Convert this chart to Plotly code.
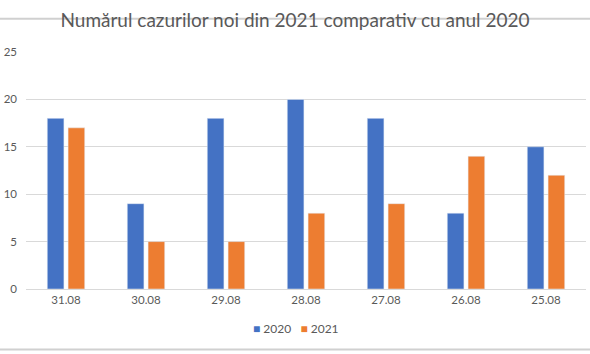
import plotly.graph_objects as go

categories = ["31.08", "30.08", "29.08", "28.08", "27.08", "26.08", "25.08"]
values_2020 = [18, 9, 18, 20, 18, 8, 15]
values_2021 = [17, 5, 5, 8, 9, 14, 12]
y_ticks = [0, 5, 10, 15, 20, 25]
colors = {"2020": "#4472C4", "2021": "#ED7D31"}

fig = go.Figure()
fig.add_trace(go.Bar(x=categories, y=values_2020, name="2020", marker_color=colors["2020"]))
fig.add_trace(go.Bar(x=categories, y=values_2021, name="2021", marker_color=colors["2021"]))

legend_text = "&nbsp;&nbsp;&nbsp;".join(
    f"<span style='color:{c}'>■</span> {n}" for n, c in colors.items()
)

fig.update_layout(
    width=590, height=354,
    margin=dict(l=26, r=4, t=52, b=65),
    paper_bgcolor="white", plot_bgcolor="white",
    font=dict(family="Lato, Open Sans, sans-serif", color="#595959", size=11),
    title=dict(text="Numărul cazurilor noi din 2021 comparativ cu anul 2020",
               x=0.5, xanchor="center", y=0.943, yanchor="middle",
               font=dict(size=19, color="#595959")),
    barmode="group", bargap=0.48, bargroupgap=0.2,
    showlegend=False,
    annotations=[dict(text=legend_text, xref="paper", yref="paper", x=0.483, y=-0.165,
                      xanchor="center", yanchor="middle", showarrow=False,
                      font=dict(size=12, color="#595959"))],
    xaxis=dict(showgrid=False, showline=True, linecolor="#D9D9D9", ticks="",
               tickfont=dict(size=11.5, color="#595959")),
    yaxis=dict(range=[0, 25], tickvals=y_ticks, showgrid=True, gridcolor="#D9D9D9",
               zeroline=False, ticks="", ticklabelstandoff=8,
               tickfont=dict(size=11.5, color="#595959")),
    shapes=[
        dict(type="line", xref="paper", yref="paper", x0=-0.1, x1=1.1, y0=1.14, y1=1.14,
             line=dict(color="#D0D0D0", width=2)),
        dict(type="line", xref="paper", yref="paper", x0=-0.1, x1=1.1, y0=-0.255, y1=-0.255,
             line=dict(color="#D0D0D0", width=2)),
    ],
)

fig.write_html("out.html")
